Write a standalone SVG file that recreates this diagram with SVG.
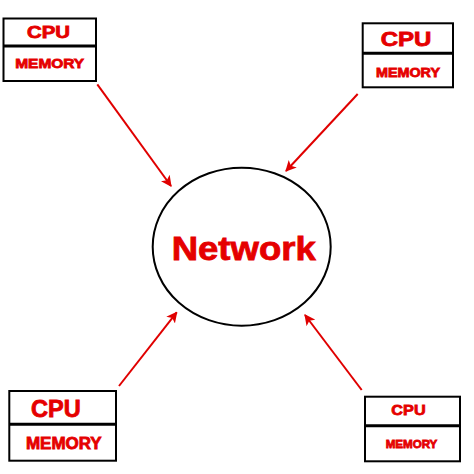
<svg xmlns="http://www.w3.org/2000/svg" width="474" height="474" viewBox="0 0 474 474">
<style>
.box{fill:#fff;stroke:#000;stroke-width:2}
.div{stroke:#000;stroke-width:3}
.t{font-family:"Liberation Sans",Arial,sans-serif;font-weight:bold;fill:#e50000;stroke:#e50000;stroke-width:0.8;text-anchor:middle}
.arr{stroke:#e00000;stroke-width:2;fill:none;marker-end:url(#ah)}
</style>
<defs>
<marker id="ah" viewBox="0 0 10 10" refX="9" refY="5" markerWidth="5.5" markerHeight="5.5" orient="auto" markerUnits="strokeWidth">
<path d="M0,0 L10,5 L0,10 L2.5,5 Z" fill="#e00000"/>
</marker>
</defs>
<rect width="474" height="474" fill="#fff"/>
<g id="connectors">
<line class="arr" x1="97.3" y1="84.3" x2="171" y2="186"/>
<line class="arr" x1="357.7" y1="94" x2="286" y2="171"/>
<line class="arr" x1="119" y1="386" x2="176.7" y2="312.3"/>
<line class="arr" x1="361.7" y1="390" x2="305" y2="315"/>
</g>
<g id="network">
<ellipse cx="241.7" cy="246.7" rx="89" ry="79" fill="#fff" stroke="#000" stroke-width="2"/>
<text class="t" x="243.7" y="259.5" font-size="32.5" textLength="144" lengthAdjust="spacingAndGlyphs">Network</text>
</g>
<g id="node1">
<rect class="box" x="3.5" y="18.5" width="92.5" height="62.5"/>
<line class="div" x1="3.5" y1="46" x2="96" y2="46"/>
<text class="t" x="48.5" y="38.2" font-size="16.5" textLength="43" lengthAdjust="spacingAndGlyphs">CPU</text>
<text class="t" x="49.7" y="68" font-size="13.5" textLength="69" lengthAdjust="spacingAndGlyphs">MEMORY</text>
</g>
<g id="node2">
<rect class="box" x="362.7" y="23.3" width="90.3" height="64"/>
<line class="div" x1="362.7" y1="53.3" x2="453" y2="53.3"/>
<text class="t" x="406" y="45.5" font-size="19.5" textLength="50.7" lengthAdjust="spacingAndGlyphs">CPU</text>
<text class="t" x="408" y="77" font-size="12.5" textLength="64" lengthAdjust="spacingAndGlyphs">MEMORY</text>
</g>
<g id="node3">
<rect class="box" x="9.3" y="391" width="106.7" height="69.7"/>
<line class="div" x1="9.3" y1="424.3" x2="116" y2="424.3"/>
<text class="t" x="55.8" y="417.2" font-size="23.5" textLength="49.7" lengthAdjust="spacingAndGlyphs">CPU</text>
<text class="t" x="63.8" y="448.7" font-size="16" textLength="75.7" lengthAdjust="spacingAndGlyphs">MEMORY</text>
</g>
<g id="node4">
<rect class="box" x="365" y="396.7" width="95" height="64.6"/>
<line class="div" x1="365" y1="425.7" x2="460" y2="425.7"/>
<text class="t" x="408.5" y="415" font-size="15.5" textLength="34.3" lengthAdjust="spacingAndGlyphs">CPU</text>
<text class="t" x="411.5" y="447.6" font-size="11.2" textLength="51.7" lengthAdjust="spacingAndGlyphs">MEMORY</text>
</g>
</svg>
